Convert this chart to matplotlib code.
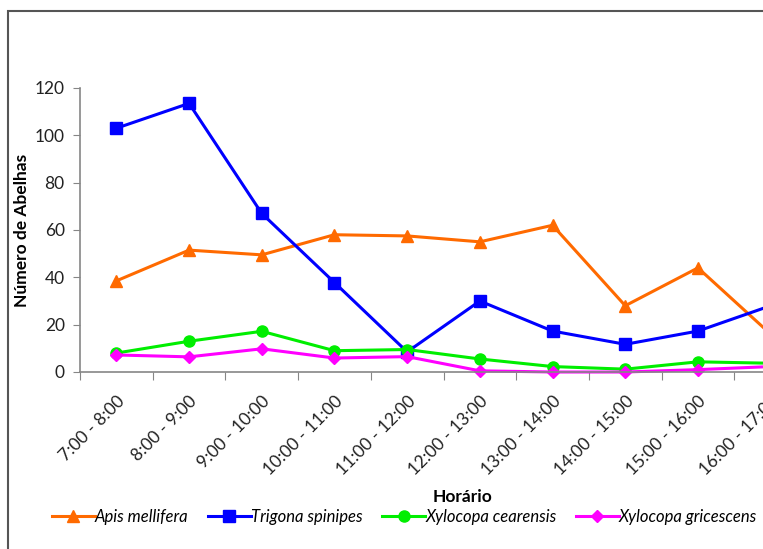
import matplotlib
matplotlib.use("Agg")
import matplotlib.pyplot as plt
from matplotlib.patches import Rectangle

categories = ["7:00 - 8:00", "8:00 - 9:00", "9:00 - 10:00", "10:00 - 11:00",
              "11:00 - 12:00", "12:00 - 13:00", "13:00 - 14:00", "14:00 - 15:00",
              "15:00 - 16:00", "16:00 - 17:00"]
apis = [38.5, 51.5, 49.5, 58, 57.5, 55, 62, 28, 44, 16]
trigona = [103, 113.5, 67, 37.8, 8.5, 30, 17.3, 11.7, 17.3, 28]
cearensis = [8, 13, 17.2, 9, 9.5, 5.5, 2.3, 1.2, 4.3, 3.7]
gricescens = [7.2, 6.4, 9.8, 5.9, 6.5, 0.5, 0, 0, 1, 2.3]

series = [
    ("Apis mellifera", apis, "#FF6A00", "^", 9),
    ("Trigona spinipes", trigona, "#0000FF", "s", 8.5),
    ("Xylocopa cearensis", cearensis, "#00EE00", "o", 8),
    ("Xylocopa gricescens", gricescens, "#FF00FF", "D", 6),
]

plt.rcParams['font.family'] = ['Lato', 'DejaVu Sans']

fig = plt.figure(figsize=(7.63, 5.49), dpi=100)
# outer chart border (cropped on right/bottom)
fig.patches.append(Rectangle((8/763, -0.1), 2.0, (549-11)/549 + 0.1,
                             transform=fig.transFigure, fill=False,
                             edgecolor="#555555", linewidth=1.5, zorder=0))

ax = fig.add_axes([80/763, (549-372)/549, 727/763, (372-88)/549])
x = list(range(len(categories)))
handles = []
for name, vals, col, mk, ms in series:
    h, = ax.plot(x, vals, color=col, marker=mk, markersize=ms, linewidth=2.2,
                 markeredgecolor=col, label=name, clip_on=False)
    handles.append(h)

ax.set_xlim(-0.5, len(categories) - 0.5)
ax.set_ylim(0, 120)
ax.set_yticks(range(0, 121, 20))
ax.set_xticks([i + 0.5 for i in range(-1, len(categories))], minor=False)
ax.set_xticklabels([])
ax.set_xticks(x, minor=True)
ax.set_xticklabels(categories, minor=True, rotation=45, ha="right",
                   rotation_mode="anchor", fontsize=12.5, color="#222222")
ax.tick_params(axis="x", which="minor", length=0, pad=15)
ax.tick_params(axis="x", which="major", length=6, color="#868686", direction="out")
ax.tick_params(axis="y", length=5, color="#868686", labelsize=12.5,
               labelcolor="#222222", pad=6)
for s in ["top", "right"]:
    ax.spines[s].set_visible(False)
for s in ["left", "bottom"]:
    ax.spines[s].set_color("#868686")
    ax.spines[s].set_linewidth(1.2)

fig.text(22/763, 1 - 230/549, "Número de Abelhas", rotation=90, ha="center",
         va="center", fontsize=12.5, fontweight="bold")
fig.text(463/763, 1 - 497/549, "Horário", ha="center", va="center",
         fontsize=12.5, fontweight="bold")

fig.legend(handles=handles, loc="center left", bbox_to_anchor=(45/763, 1 - 517/549),
           ncol=4, frameon=False, prop={"style": "italic", "size": 12},
           handlelength=2.6, handletextpad=0.0, columnspacing=1.15, borderaxespad=0)

fig.savefig("out.png", dpi=100)
